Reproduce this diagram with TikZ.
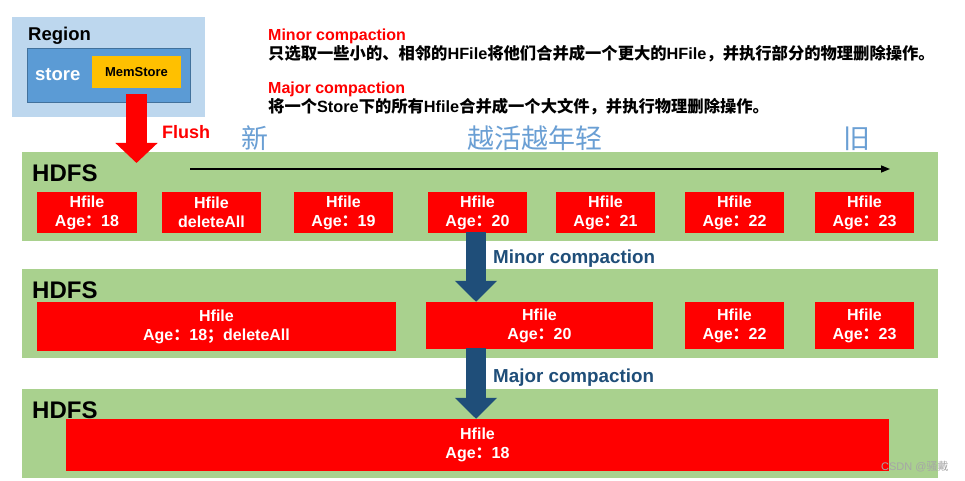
\documentclass[tikz,border=0pt]{standalone}
\usepackage{fontspec}
\setmainfont{Liberation Sans}
\newfontfamily\cjk{Noto Sans CJK SC}
\usetikzlibrary{arrows.meta,calc}
\definecolor{regionbg}{HTML}{BDD7EE}
\definecolor{storebg}{HTML}{5B9BD5}
\definecolor{storeedge}{HTML}{41719C}
\definecolor{memfill}{HTML}{FFC000}
\definecolor{hdfsgreen}{HTML}{A9D18E}
\definecolor{hred}{HTML}{FF0000}
\definecolor{darkblue}{HTML}{1F4E79}
\definecolor{paleblue}{HTML}{6A9FD4}
\tikzset{
  fs/.style={font=\fontsize{#1}{#1}\selectfont\bfseries},
  band/.style={fill=hdfsgreen, draw=none, inner sep=0pt, minimum width=916pt, minimum height=89pt, anchor=north west},
  hbox/.style={fill=hred, draw=none, inner sep=0pt, text=white, align=center,
     font=\fontsize{16}{19}\selectfont\bfseries},
  blockarrow/.style={draw=darkblue, line width=20pt, -{Triangle[length=21pt,width=41pt]}},
  flusharrow/.style={draw=hred, line width=21pt, -{Triangle[length=20pt,width=41pt]}},
  lbl/.style={anchor=base west, inner sep=0pt},
}
\newcommand{\fw}[1]{{\cjk #1}}
\begin{document}
\begin{tikzpicture}[x=1pt,y=-1pt]
\useasboundingbox[fill=white] (0,0) rectangle (965,481);

% Region
\node[fill=regionbg, inner sep=0pt, minimum width=193pt, minimum height=100pt, anchor=north west] (region) at (12,17) {};
\node[lbl, fs=18.5] (regiontxt) at (28,41) {Region};
\node[fill=storebg, draw=storeedge, line width=0.8pt, inner sep=0pt, minimum width=163pt, minimum height=54pt, anchor=north west] (store) at (27,48) {};
\node[lbl, fs=18.5, text=white] (storetxt) at (35,81) {store};
\node[fill=memfill, draw=none, inner sep=0pt, minimum width=89pt, minimum height=32pt, fs=13] (mem) at (136.5,72) {MemStore};

% top descriptions
\node[lbl, fs=16, text=hred] (minorred) at (268,41) {Minor compaction};
\node[lbl, fs=16.3] (minordesc) at (268,60) {\fw{只选取一些小的、相邻的}HFile\fw{将他们合并成一个更大的}HFile\fw{，并执行部分的物理删除操作。}};
\node[lbl, fs=16, text=hred] (majorred) at (268,94) {Major compaction};
\node[lbl, fs=16.3] (majordesc) at (268,113) {\fw{将一个}Store\fw{下的所有}Hfile\fw{合并成一个大文件，并执行物理删除操作。}};

% age labels
\node[lbl, text=paleblue, font=\cjk\fontsize{27}{27}\selectfont] (xin) at (241,149) {新};
\node[lbl, text=paleblue, font=\cjk\fontsize{27}{27}\selectfont] (yue) at (467,149) {越活越年轻};
\node[lbl, text=paleblue, font=\cjk\fontsize{27}{27}\selectfont] (jiu) at (843,149) {旧};

% HDFS bands
\node[band] (hdfs1) at (22,152) {};
\node[band] (hdfs2) at (22,269) {};
\node[band] (hdfs3) at (22,389) {};
\node[lbl, fs=24] (hdfs1txt) at (32,181) {HDFS};
\node[lbl, fs=24] (hdfs2txt) at (32,298) {HDFS};
\node[lbl, fs=24] (hdfs3txt) at (32,418) {HDFS};

% time arrow
\coordinate (tstart) at (190,169);
\coordinate (tend) at (890,169);
\draw[line width=1.5pt, -{Triangle[length=9pt,width=7pt]}] (tstart) -- (tend);

% row 1
\node[hbox, minimum width=100pt, minimum height=41pt] (h1) at (87,212.5) {Hfile\\Age\fw{：}18};
\node[hbox, minimum width=99pt, minimum height=41pt] (h2) at (211.5,212.5) {Hfile\\deleteAll};
\node[hbox, minimum width=99pt, minimum height=41pt] (h3) at (343.5,212.5) {Hfile\\Age\fw{：}19};
\node[hbox, minimum width=99pt, minimum height=41pt] (h4) at (477.5,212.5) {Hfile\\Age\fw{：}20};
\node[hbox, minimum width=99pt, minimum height=41pt] (h5) at (605.5,212.5) {Hfile\\Age\fw{：}21};
\node[hbox, minimum width=99pt, minimum height=41pt] (h6) at (734.5,212.5) {Hfile\\Age\fw{：}22};
\node[hbox, minimum width=99pt, minimum height=41pt] (h7) at (864.5,212.5) {Hfile\\Age\fw{：}23};

% row 2
\node[hbox, minimum width=359pt, minimum height=49pt] (m1) at (216.5,326.5) {Hfile\\Age\fw{：}18\fw{；}deleteAll};
\node[hbox, minimum width=227pt, minimum height=47pt] (m2) at (539.5,325.5) {Hfile\\Age\fw{：}20};
\node[hbox, minimum width=99pt, minimum height=47pt] (m3) at (734.5,325.5) {Hfile\\Age\fw{：}22};
\node[hbox, minimum width=99pt, minimum height=47pt] (m4) at (864.5,325.5) {Hfile\\Age\fw{：}23};

% row 3
\node[hbox, minimum width=823pt, minimum height=52pt] (big) at (477.5,445) {Hfile\\Age\fw{：}18};

% arrows
\coordinate (minortop) at (476,232);
\draw[blockarrow] (minortop) -- (minortop |- m2.north);
\coordinate (majortop) at (476,348);
\draw[blockarrow] (majortop) -- (majortop |- big.north);
\node[lbl, fs=18.8, text=darkblue] (minorlbl) at (493,263) {Minor compaction};
\node[lbl, fs=18.8, text=darkblue] (majorlbl) at (493,382) {Major compaction};

\coordinate (flushtop) at ($(mem.south)+(0,6)$);
\coordinate (flushtip) at ($(hdfs1.north -| mem.south)+(0,11)$);
\draw[flusharrow] (flushtop) -- (flushtip);
\node[lbl, fs=18, text=hred] (flushtxt) at (162,139) {Flush};

% watermark
\node[lbl, text=black!35, font=\fontsize{11}{11}\selectfont] (wm) at (881,470) {CSDN @\fw{骚戴}};
\end{tikzpicture}
\end{document}
